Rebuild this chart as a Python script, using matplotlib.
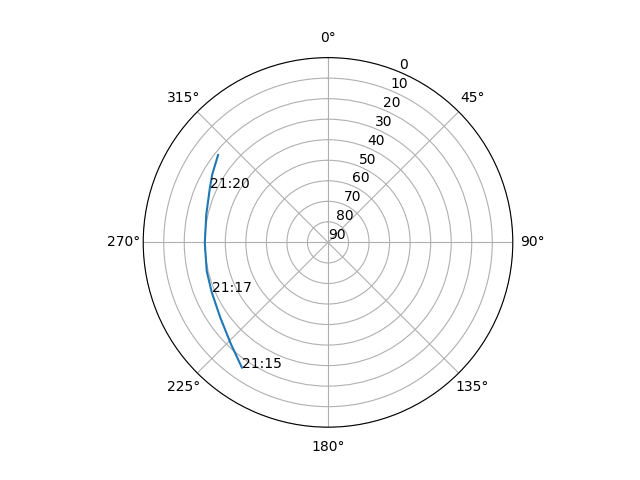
import numpy as np
import matplotlib
matplotlib.use("Agg")
import matplotlib.pyplot as plt

# Satellite pass track (azimuth deg, elevation deg)
azimuth = [214.5, 223.6, 235.0, 246.9, 256.6, 269.7, 282.8, 294.6, 300.5, 308.5]
elevation = [16.0, 21.5, 26.0, 28.4, 29.3, 30.0, 29.2, 26.7, 24.6, 21.6]

# Time labels placed on the track
label_times = ["21:15", "21:17", "21:20"]
label_az = [214.5, 246.9, 294.6]
label_el = [16.0, 28.4, 26.7]

r_ticks = list(range(0, 91, 10))

fig = plt.figure(figsize=(6.4, 4.8), dpi=100)
ax = fig.add_subplot(111, projection="polar")
ax.set_theta_zero_location("N")
ax.set_theta_direction(-1)

ax.plot(np.radians(azimuth), elevation)
for t, a, e in zip(label_times, label_az, label_el):
    ax.text(np.radians(a), e, t)

ax.set_rlim(90, 0)
ax.set_yticks(r_ticks)
ax.set_yticklabels([str(v) for v in r_ticks])

fig.savefig("out.png", dpi=100)
